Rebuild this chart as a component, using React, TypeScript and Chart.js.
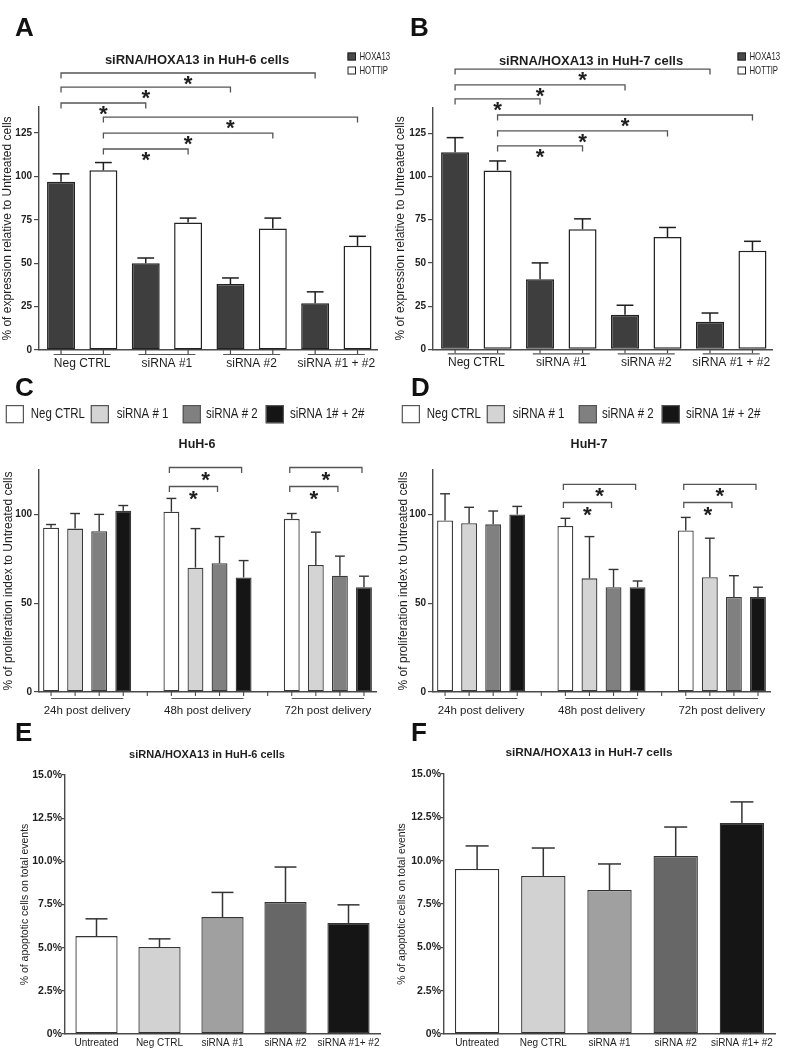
import React, { useEffect, useRef } from 'react';
import { Chart, registerables } from 'chart.js';

Chart.register(...registerables);

const FAM = '"Liberation Sans", Arial, Helvetica, sans-serif';
const W = 791;
const H = 1050;

// ---------------- Panels A & B : qPCR expression ----------------
const abGroups = ['Neg CTRL', 'siRNA #1', 'siRNA #2', 'siRNA #1 + #2'];
const abSeries = ['HOXA13', 'HOTTIP'];
const abTicks = [0, 25, 50, 75, 100, 125];
const aHoxa13 = [97, 50, 38, 27];
const aHoxa13Err = [4.5, 3, 3.5, 6.5];
const aHottip = [103.5, 73.5, 70, 60];
const aHottipErr = [4.5, 2.5, 6, 5.5];
const bHoxa13 = [114, 40.5, 20, 16];
const bHoxa13Err = [8.5, 9.5, 5.5, 5];
const bHottip = [103.5, 69.5, 65, 57];
const bHottipErr = [5.5, 6, 5.5, 5.5];
// significance brackets from Neg CTRL: [series, target group, level]
const aBrackets = [[0, 3, 159.6], [0, 2, 151.5], [0, 1, 142.3], [1, 3, 134.2], [1, 2, 125], [1, 1, 115.8]];
const bBrackets = [[0, 3, 162.2], [0, 2, 153], [0, 1, 144.9], [1, 3, 135.6], [1, 2, 126.4], [1, 1, 117.7]];

// ---------------- Panels C & D : proliferation ----------------
const cdGroups = ['24h post delivery', '48h post delivery', '72h post delivery'];
const cdSeries = ['Neg CTRL', 'siRNA # 1', 'siRNA # 2', 'siRNA 1# + 2#'];
const cdTicks = [0, 50, 100];
const cNegCtrl = [92.5, 101.5, 97.5];
const cNegCtrlErr = [1.8, 7.5, 3];
const cSi1 = [92, 70, 71.5];
const cSi1Err = [8.5, 22, 18.5];
const cSi2 = [90.5, 72.5, 65.5];
const cSi2Err = [9.5, 15, 11];
const cSi12 = [102, 64.5, 59];
const cSi12Err = [3, 9.5, 6.2];
const dNegCtrl = [96.6, 93.5, 91];
const dNegCtrlErr = [15, 4.3, 7.3];
const dSi1 = [95, 64, 64.6];
const dSi1Err = [9, 23.5, 22];
const dSi2 = [94.4, 59, 53.5];
const dSi2Err = [7.5, 10, 12];
const dSi12 = [100, 59, 53.5];
const dSi12Err = [4.5, 3.5, 5.5];
// brackets from Neg CTRL: [group, target series, level]
const cBrackets = [[1, 2, 115.7], [1, 3, 126.4], [2, 2, 115.7], [2, 3, 126.4]];
const dBrackets = [[1, 2, 106.7], [1, 3, 116.9], [2, 2, 106.7], [2, 3, 116.9]];

// ---------------- Panels E & F : apoptosis ----------------
const efCategories = ['Untreated', 'Neg CTRL', 'siRNA #1', 'siRNA #2', 'siRNA #1+ #2'];
const efTicks = [0, 2.5, 5, 7.5, 10, 12.5, 15];
const eApoptotic = [5.67, 5.04, 6.77, 7.64, 6.43];
const eApoptoticErr = [1.0, 0.47, 1.43, 2.03, 1.05];
const fApoptotic = [9.52, 9.12, 8.31, 10.27, 12.17];
const fApoptoticErr = [1.33, 1.61, 1.5, 1.67, 1.22];

// ---------------- styles ----------------
const abColors = ['#3e3e3e', '#ffffff'];
const cdColors = ['#ffffff', '#d4d4d4', '#808080', '#151515'];
const efColors = ['#ffffff', '#d2d2d2', '#a0a0a0', '#676767', '#151515'];
const INK = '#1e1e1e';
const AXIS = '#4a4a4a';

Chart.defaults.font.family = FAM;
Chart.defaults.color = INK;

// ---------------- drawing helpers ----------------
function txt(ctx: any, s: string, x: number, y: number, size: number, o: any = {}) {
  const { bold = false, align = 'center', baseline = 'middle', sx = 1, color = INK } = o;
  ctx.save();
  ctx.font = `${bold ? 'bold ' : ''}${size}px ${FAM}`;
  ctx.fillStyle = color;
  ctx.textAlign = align;
  ctx.textBaseline = baseline;
  ctx.translate(x, y);
  ctx.scale(sx, 1);
  ctx.fillText(s, 0, 0);
  ctx.restore();
}

function path(ctx: any, pts: number[][], color = AXIS, lw = 1.3) {
  ctx.save();
  ctx.strokeStyle = color;
  ctx.lineWidth = lw;
  ctx.beginPath();
  pts.forEach((p, i) => (i ? ctx.lineTo(p[0], p[1]) : ctx.moveTo(p[0], p[1])));
  ctx.stroke();
  ctx.restore();
}

function star(ctx: any, cx: number, cy: number, h = 8.5) {
  ctx.save();
  ctx.font = `bold 100px ${FAM}`;
  const m = ctx.measureText('*');
  const gh = (m.actualBoundingBoxAscent + m.actualBoundingBoxDescent) || 35;
  const size = (100 * h) / gh;
  ctx.font = `bold ${size}px ${FAM}`;
  const m2 = ctx.measureText('*');
  ctx.fillStyle = INK;
  ctx.textAlign = 'center';
  ctx.textBaseline = 'alphabetic';
  ctx.fillText('*', cx, cy + (m2.actualBoundingBoxAscent - m2.actualBoundingBoxDescent) / 2);
  ctx.restore();
}

function bracket(ctx: any, x1: number, x2: number, y: number, starGap = 8) {
  path(ctx, [[x1, y + 5.5], [x1, y], [x2, y], [x2, y + 5.5]], '#555', 1.3);
  star(ctx, (x1 + x2) / 2, y + starGap);
}

function errorBars(chart: any, capRatio: number, color = INK, lw = 1.5) {
  const ctx = chart.ctx;
  const ys = chart.scales.y;
  chart.data.datasets.forEach((ds: any, di: number) => {
    const meta = chart.getDatasetMeta(di);
    meta.data.forEach((el: any, i: number) => {
      const d = ds.data[i];
      const v = typeof d === 'number' ? d : d.y;
      const top = ys.getPixelForValue(v + ds.errors[i]);
      const half = (el.width * capRatio) / 2;
      path(ctx, [[el.x, el.y], [el.x, top]], color, lw);
      path(ctx, [[el.x - half, top], [el.x + half, top]], color, lw);
    });
  });
}

function letter(ctx: any, s: string, x: number, y: number) {
  txt(ctx, s, x, y, 26, { bold: true, align: 'left', baseline: 'alphabetic', color: '#111' });
}

function yAxis(p: any, ticks: number[], max: number, title: string, o: any = {}) {
  const { tickSize = 10, titleSize = 12, tickLength = 5, pad = 2, fmt = (v: number) => String(v) } = o;
  return {
    min: 0,
    max,
    afterBuildTicks: (s: any) => {
      s.ticks = ticks.map((v) => ({ value: v }));
    },
    afterFit: (s: any) => {
      s.width = p.plotLeft - p.axLeft;
    },
    ticks: { font: { size: tickSize, weight: 'bold' }, color: INK, padding: pad, callback: (v: number) => fmt(v) },
    grid: { display: true, drawOnChartArea: false, drawTicks: true, tickLength, color: AXIS, lineWidth: 1.2 },
    border: { display: true, color: AXIS, width: 1.4 },
    title: { display: true, text: title, font: { size: titleSize }, color: INK, padding: 0 },
  };
}

function linearX(groups: string[], min: number, max: number) {
  return {
    type: 'linear',
    offset: false,
    min,
    max,
    afterBuildTicks: (s: any) => {
      s.ticks = groups.map((_, i) => ({ value: i }));
    },
    afterFit: (s: any) => {
      s.height = 0;
    },
    ticks: { display: false },
    grid: { display: false, offset: false },
    border: { display: true, color: AXIS, width: 1.5 },
  };
}

// ---------------- Panel builders ----------------
function makeAB(canvas: any, p: any) {
  const series = [
    { values: p.hox, errs: p.hoxErr },
    { values: p.hot, errs: p.hotErr },
  ];
  const plugin = {
    id: 'abDecor' + p.letter,
    afterDraw(chart: any) {
      const ctx = chart.ctx;
      const xs = chart.scales.x;
      const ys = chart.scales.y;
      const base = chart.chartArea.bottom;
      errorBars(chart, 0.6, INK, 1.5);
      chart.data.datasets.forEach((_: any, di: number) => {
        chart.getDatasetMeta(di).data.forEach((el: any) => path(ctx, [[el.x, base], [el.x, base + 4]], AXIS, 1.2));
      });
      abGroups.forEach((g, i) => {
        const cx = xs.getPixelForValue(i);
        path(ctx, [[cx - 28.5, base + 4.5], [cx + 28.5, base + 4.5]], '#555', 1.2);
        txt(ctx, g, cx, base + 13.5, 12);
      });
      p.brackets.forEach((b: number[]) => {
        const meta = chart.getDatasetMeta(b[0]);
        bracket(ctx, meta.data[0].x, meta.data[b[1]].x, ys.getPixelForValue(b[2]), 7.5);
      });
      txt(ctx, p.title, p.titleX, p.titleY, 13, { bold: true });
      abSeries.forEach((s, i) => {
        const y = 52.5 + i * 14;
        ctx.save();
        ctx.fillStyle = i === 0 ? '#4a4a4a' : '#fff';
        ctx.strokeStyle = '#222';
        ctx.lineWidth = 1;
        ctx.fillRect(p.legendX, y, 8.5, 8);
        ctx.strokeRect(p.legendX + 0.5, y + 0.5, 7.5, 7);
        ctx.restore();
        txt(ctx, s, p.legendX + 12, y + 4.3, 10.5, { align: 'left', sx: 0.74 });
      });
      letter(ctx, p.letter, p.letterX, 36);
    },
  };
  return new Chart(canvas, {
    type: 'bar',
    data: {
      datasets: abSeries.map((name, si) => ({
        label: name,
        data: abGroups.map((_, i) => ({ x: i, y: series[si].values[i] })),
        errors: series[si].errs,
        backgroundColor: abColors[si],
        borderColor: '#222',
        borderWidth: 1.5,
        borderSkipped: false,
        categoryPercentage: 1,
        barPercentage: 0.66,
      })),
    } as any,
    options: {
      animation: false,
      responsive: false,
      devicePixelRatio: 1,
      layout: { padding: { left: p.axLeft, top: p.top, right: W - p.plotRight, bottom: H - p.bottom } },
      plugins: { legend: { display: false }, tooltip: { enabled: false }, title: { display: false } },
      scales: {
        x: linearX(abGroups, -0.51, 3.48),
        y: yAxis(p, abTicks, 140, '% of expression relative to Untreated cells'),
      },
    } as any,
    plugins: [plugin],
  });
}

function makeCD(canvas: any, p: any) {
  const plugin = {
    id: 'cdDecor' + p.letter,
    afterDraw(chart: any) {
      const ctx = chart.ctx;
      const xs = chart.scales.x;
      const ys = chart.scales.y;
      const base = chart.chartArea.bottom;
      errorBars(chart, 0.62, '#333', 1.4);
      chart.data.datasets.forEach((_: any, di: number) => {
        chart.getDatasetMeta(di).data.forEach((el: any) => path(ctx, [[el.x, base], [el.x, base + 4]], AXIS, 1.1));
      });
      [0.5, 1.5].forEach((v) => {
        const x = xs.getPixelForValue(v);
        path(ctx, [[x, base], [x, base + 4]], AXIS, 1.1);
      });
      const first = chart.getDatasetMeta(0).data;
      const last = chart.getDatasetMeta(cdSeries.length - 1).data;
      cdGroups.forEach((g, i) => {
        path(ctx, [[first[i].x, base + 6.5], [last[i].x, base + 6.5]], '#555', 1.2);
        txt(ctx, g, xs.getPixelForValue(i), base + 19, 11.5);
      });
      p.brackets.forEach((b: number[]) => {
        const x1 = chart.getDatasetMeta(0).data[b[0]].x;
        const x2 = chart.getDatasetMeta(b[1]).data[b[0]].x;
        bracket(ctx, x1 - 2, x2 - 2, ys.getPixelForValue(b[2]), 8.5);
      });
      txt(ctx, p.title, p.titleX, 445, 12.5, { bold: true });
      const boxX = [5.7, 90.7, 182.7, 265.7];
      const textX = [30.7, 116.7, 206, 290];
      cdSeries.forEach((s, i) => {
        ctx.save();
        ctx.fillStyle = cdColors[i];
        ctx.strokeStyle = '#555';
        ctx.lineWidth = 1.2;
        ctx.fillRect(boxX[i] + p.off, 405, 18.3, 18.3);
        ctx.strokeRect(boxX[i] + p.off + 0.6, 405.6, 17.1, 17.1);
        ctx.restore();
        txt(ctx, s, textX[i] + p.off, 414.5, 14, { align: 'left', sx: 0.82 });
      });
      letter(ctx, p.letter, p.letterX, 396);
    },
  };
  return new Chart(canvas, {
    type: 'bar',
    data: {
      datasets: cdSeries.map((name, si) => ({
        label: name,
        data: cdGroups.map((_, i) => ({ x: i, y: p.values[si][i] })),
        errors: p.errs[si],
        backgroundColor: cdColors[si],
        borderColor: '#3a3a3a',
        borderWidth: 1.3,
        borderSkipped: false,
        categoryPercentage: 0.8,
        barPercentage: 0.66,
      })),
    } as any,
    options: {
      animation: false,
      responsive: false,
      devicePixelRatio: 1,
      layout: { padding: { left: p.axLeft, top: p.top, right: W - p.plotRight, bottom: H - p.bottom } },
      plugins: { legend: { display: false }, tooltip: { enabled: false }, title: { display: false } },
      scales: {
        x: linearX(cdGroups, -0.4, 2.4),
        y: yAxis(p, cdTicks, 125, '% of proliferation index to Untreated cells'),
      },
    } as any,
    plugins: [plugin],
  });
}

function makeEF(canvas: any, p: any) {
  const plugin = {
    id: 'efDecor' + p.letter,
    afterDraw(chart: any) {
      const ctx = chart.ctx;
      errorBars(chart, 0.52, '#333', 1.5);
      txt(ctx, p.title, p.titleX, p.titleY, p.titleSize, { bold: true });
      letter(ctx, p.letter, p.letterX, 741);
    },
  };
  return new Chart(canvas, {
    type: 'bar',
    data: {
      labels: efCategories,
      datasets: [
        {
          label: p.title,
          data: p.values,
          errors: p.errs,
          backgroundColor: efColors,
          borderColor: '#333',
          borderWidth: 1.3,
          borderSkipped: false,
          categoryPercentage: 1,
          barPercentage: 0.67,
        },
      ],
    } as any,
    options: {
      animation: false,
      responsive: false,
      devicePixelRatio: 1,
      layout: { padding: { left: p.axLeft, top: p.top, right: W - p.plotRight, bottom: H - p.bottom - 16 } },
      plugins: { legend: { display: false }, tooltip: { enabled: false }, title: { display: false } },
      scales: {
        x: {
          afterFit: (s: any) => {
            s.height = 16;
          },
          ticks: { font: { size: 10 }, color: INK, padding: 3, autoSkip: false, maxRotation: 0 },
          grid: { display: false, drawTicks: false },
          border: { display: true, color: AXIS, width: 1.5 },
        },
        y: yAxis(p, efTicks, 15, '% of apoptotic cells on total events', {
          tickSize: 10.5,
          titleSize: 10.5,
          tickLength: 3,
          pad: 0,
          fmt: (v: number) => (v === 0 ? '0%' : v.toFixed(1) + '%'),
        }),
      },
    } as any,
    plugins: [plugin],
  });
}

// ---------------- panel settings ----------------
const panelA = {
  letter: 'A', letterX: 15, title: 'siRNA/HOXA13 in HuH-6 cells', titleX: 197, titleY: 60,
  hox: aHoxa13, hoxErr: aHoxa13Err, hot: aHottip, hotErr: aHottipErr, brackets: aBrackets,
  axLeft: 0, plotLeft: 39, plotRight: 377, top: 107, bottom: 350, legendX: 347.5,
};
const panelB = {
  letter: 'B', letterX: 410, title: 'siRNA/HOXA13 in HuH-7 cells', titleX: 591, titleY: 61,
  hox: bHoxa13, hoxErr: bHoxa13Err, hot: bHottip, hotErr: bHottipErr, brackets: bBrackets,
  axLeft: 393, plotLeft: 433, plotRight: 772, top: 107.4, bottom: 349.3, legendX: 737.5,
};
const panelC = {
  letter: 'C', letterX: 15, title: 'HuH-6', titleX: 197, off: 0,
  values: [cNegCtrl, cSi1, cSi2, cSi12], errs: [cNegCtrlErr, cSi1Err, cSi2Err, cSi12Err], brackets: cBrackets,
  axLeft: 1, plotLeft: 39, plotRight: 376, top: 470, bottom: 692,
};
const panelD = {
  letter: 'D', letterX: 411, title: 'HuH-7', titleX: 589, off: 396,
  values: [dNegCtrl, dSi1, dSi2, dSi12], errs: [dNegCtrlErr, dSi1Err, dSi2Err, dSi12Err], brackets: dBrackets,
  axLeft: 396, plotLeft: 433, plotRight: 770, top: 470, bottom: 692,
};
const panelE = {
  letter: 'E', letterX: 15, title: 'siRNA/HOXA13 in HuH-6 cells', titleX: 207, titleY: 755, titleSize: 11,
  values: eApoptotic, errs: eApoptoticErr, axLeft: 19, plotLeft: 65, plotRight: 380, top: 775, bottom: 1034,
};
const panelF = {
  letter: 'F', letterX: 411, title: 'siRNA/HOXA13 in HuH-7 cells', titleX: 589, titleY: 753, titleSize: 11.8,
  values: fApoptotic, errs: fApoptoticErr, axLeft: 396, plotLeft: 444, plotRight: 775, top: 774, bottom: 1034,
};

function Layer({ make }: { make: (c: HTMLCanvasElement) => Chart }) {
  const ref = useRef<HTMLCanvasElement | null>(null);
  useEffect(() => {
    const chart = make(ref.current as HTMLCanvasElement);
    return () => chart.destroy();
  }, []);
  return (
    <canvas
      ref={ref}
      width={W}
      height={H}
      style={{ position: 'absolute', left: 0, top: 0, width: W, height: H }}
    />
  );
}

export default function App() {
  return (
    <div style={{ position: 'absolute', left: 0, top: 0, width: W, height: H, background: '#fff', overflow: 'hidden' }}>
      <Layer make={(c) => makeAB(c, panelA)} />
      <Layer make={(c) => makeAB(c, panelB)} />
      <Layer make={(c) => makeCD(c, panelC)} />
      <Layer make={(c) => makeCD(c, panelD)} />
      <Layer make={(c) => makeEF(c, panelE)} />
      <Layer make={(c) => makeEF(c, panelF)} />
    </div>
  );
}
